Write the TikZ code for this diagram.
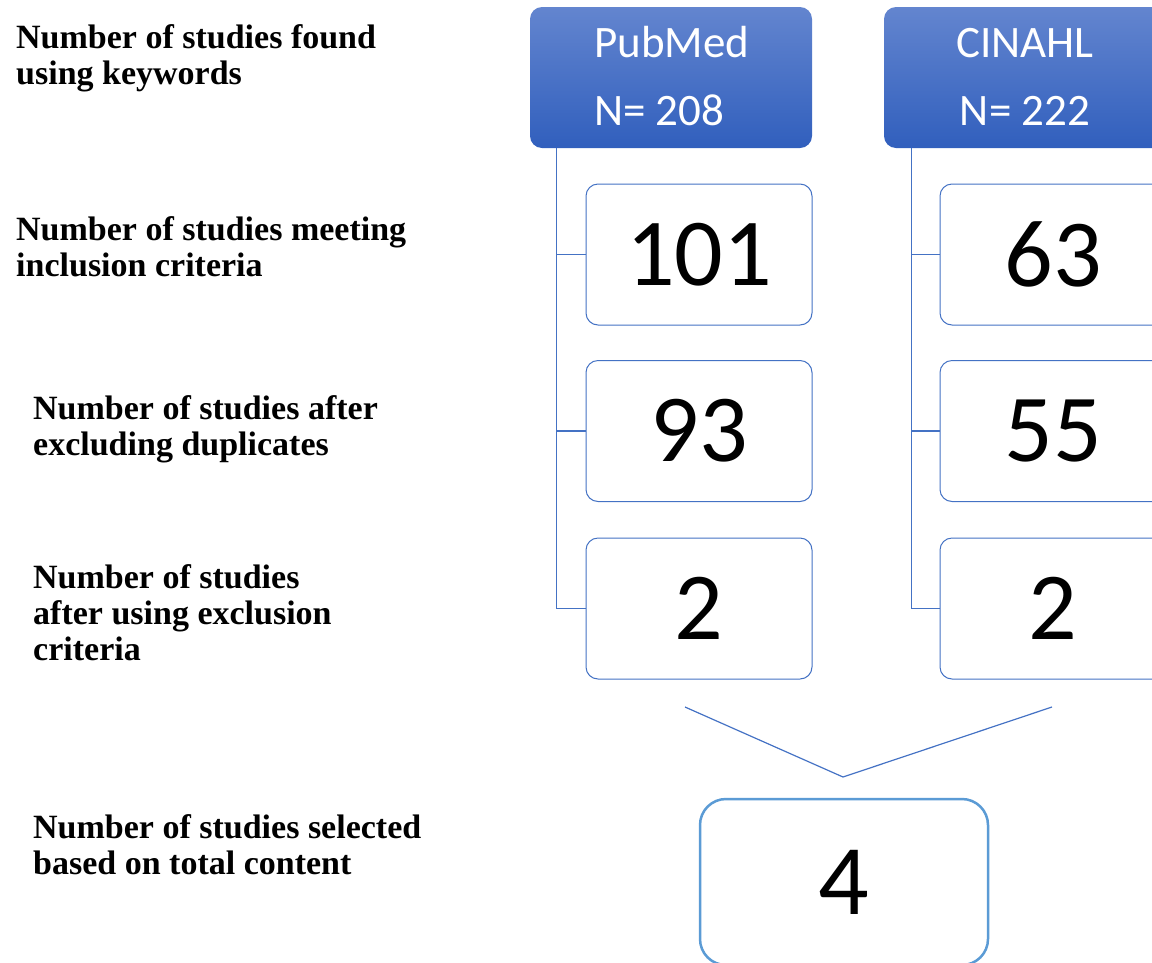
\documentclass[tikz,border=0pt]{standalone}
\usepackage{fontspec}
\setmainfont{Liberation Serif}
\newfontfamily\numfont{Carlito}
\definecolor{hdrtop}{HTML}{6385CF}
\definecolor{hdrbot}{HTML}{315FBD}
\definecolor{edge}{HTML}{4472C4}
\definecolor{edgelight}{HTML}{5B9BD5}
\tikzset{
  hdrbox/.style={rectangle, rounded corners=12pt, top color=hdrtop, bottom color=hdrbot,
    draw=none, minimum width=282pt, minimum height=141pt, inner sep=0pt},
  hdrtext/.style={text=white, font=\numfont\fontsize{45}{54}\selectfont, inner sep=0pt},
  numbox/.style={rectangle, rounded corners=12pt, draw=edge, line width=1pt, fill=white,
    minimum width=226pt, minimum height=141pt, inner sep=0pt,
    font=\numfont\fontsize{96}{110}\selectfont},
  finalbox/.style={rectangle, rounded corners=26pt, draw=edgelight, line width=2.5pt, fill=white,
    minimum width=288pt, minimum height=166pt, inner sep=0pt,
    font=\numfont\fontsize{100}{110}\selectfont},
  lbl/.style={anchor=base west, align=left, inner sep=0pt,
    font=\bfseries\fontsize{34}{36}\selectfont},
  link/.style={draw=edge, line width=1.2pt},
}
\begin{document}
\begin{tikzpicture}[x=1pt,y=-1pt]
\useasboundingbox (0,0) rectangle (1152,962);
\clip (0,0) rectangle (1152,962);

% labels (anchor = baseline of last line)
\node[lbl] (l1) at (16,84) {Number of studies found\\using keywords};
\node[lbl] (l2) at (16,276) {Number of studies meeting\\inclusion criteria};
\node[lbl] (l3) at (33,455) {Number of studies after\\excluding duplicates};
\node[lbl] (l4) at (33,660) {Number of studies\\after using exclusion\\criteria};
\node[lbl] (l5) at (33,874) {Number of studies selected\\based on total content};

% headers
\node[hdrbox] (pm) at (671,77.5) {};
\node[hdrtext, anchor=base west] (pmt) at (594,57) {PubMed};
\node[hdrtext, anchor=base west] (pmn) at (594,125) {N= 208};
\node[hdrbox] (ci) at (1025,77.5) {};
\node[hdrtext, anchor=base] (cit) at (1025,57) {CINAHL};
\node[hdrtext, anchor=base] (cin) at (1025,125) {N= 222};

% PubMed column
\node[numbox] (p1) at (699,254.5) {101};
\node[numbox] (p2) at (699,431) {93};
\node[numbox] (p3) at (699,608.5) {2};
% CINAHL column
\node[numbox] (c1) at (1053,254.5) {63};
\node[numbox] (c2) at (1053,431) {55};
\node[numbox] (c3) at (1053,608.5) {2};

\foreach \n in {p1,p2,p3}{\draw[link] ([xshift=27pt]pm.south west) |- (\n.west);}
\foreach \n in {c1,c2,c3}{\draw[link] ([xshift=28pt]ci.south west) |- (\n.west);}

% final
\node[finalbox] (fin) at (844,882) {4};
\coordinate (fl) at (685,707);
\coordinate (apex) at (843,777);
\coordinate (fr) at (1052,707);
\draw[link] (fl) -- (apex) -- (fr);
\end{tikzpicture}
\end{document}
